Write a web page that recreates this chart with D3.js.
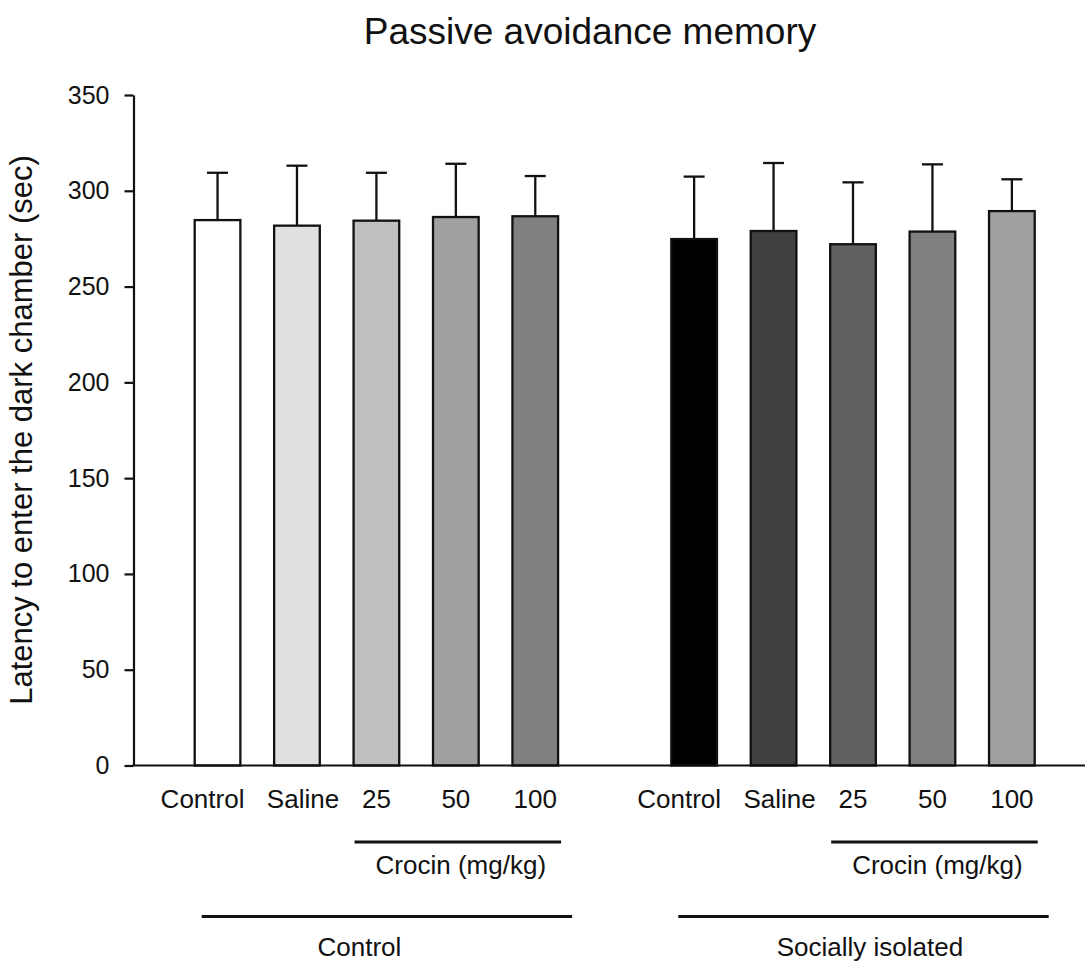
<!DOCTYPE html>
<html>
<head>
<meta charset="utf-8">
<script src="https://cdn.jsdelivr.net/npm/d3@7"></script>
<style>
  body { margin: 0; background: #fff; }
  svg text { font-family: "Liberation Sans", Arial, sans-serif; fill: #111; }
</style>
</head>
<body>
<div id="chart"></div>
<script>
// groups and treatments
var groups = ["Control", "Socially isolated"];
var treatments = ["Control", "Saline", "25", "50", "100"];
var doseTreatments = ["25", "50", "100"];

// mean latency (sec) and SEM
var controlMeans = [284.7, 281.8, 284.4, 286.3, 286.7];
var controlSem   = [24.7, 31.3, 25.0, 27.8, 21.0];
var isolatedMeans = [274.8, 279.0, 272.1, 278.7, 289.4];
var isolatedSem   = [32.6, 35.5, 32.3, 35.1, 16.6];

var yTicks = [0, 50, 100, 150, 200, 250, 300, 350];

var controlFills  = ["#ffffff", "#e0e0e0", "#c0c0c0", "#a0a0a0", "#808080"];
var isolatedFills = ["#000000", "#404040", "#606060", "#808080", "#a0a0a0"];

var width = 1085, height = 963;
var axisX = 133.5;

// build the bar rows
var bars = [];
var slots = [];
groups.forEach(function (g, gi) {
  var means = gi == 0 ? controlMeans : isolatedMeans;
  var sems = gi == 0 ? controlSem : isolatedSem;
  var fills = gi == 0 ? controlFills : isolatedFills;
  treatments.forEach(function (t, ti) {
    var key = g + "|" + t;
    slots.push(key);
    bars.push({ key: key, group: g, treatment: t, mean: means[ti], sem: sems[ti], fill: fills[ti] });
  });
  if (gi == 0) slots.push("gap"); // empty slot between the two groups
});

var svg = d3.select("#chart").append("svg")
  .attr("width", width)
  .attr("height", height);

var x = d3.scaleBand()
  .domain(slots)
  .range([193.7, 1035.7])
  .paddingInner(0.4)
  .paddingOuter(0);

var y = d3.scaleLinear()
  .domain([0, 350])
  .range([765.5, 95]);

// title
svg.append("text")
  .attr("x", 590)
  .attr("y", 44)
  .attr("text-anchor", "middle")
  .style("font-size", "37px")
  .text("Passive avoidance memory");

// y axis
var yAxis = svg.append("g")
  .attr("transform", "translate(" + axisX + ",0)")
  .call(d3.axisLeft(y).tickValues(yTicks).tickSize(9).tickPadding(15).tickSizeOuter(0));
yAxis.selectAll("path, line").attr("stroke", "#111").attr("stroke-width", 2.2);
yAxis.selectAll("text").style("font-size", "25px").style("font-family", "'Liberation Sans', Arial, sans-serif").attr("fill", "#111");

svg.append("text")
  .attr("transform", "translate(32,430) rotate(-90)")
  .attr("text-anchor", "middle")
  .style("font-size", "31px")
  .text("Latency to enter the dark chamber (sec)");

// bars
svg.selectAll(".bar")
  .data(bars)
  .enter().append("rect")
  .attr("class", "bar")
  .attr("x", function (d) { return x(d.key) + 1; })
  .attr("y", function (d) { return y(d.mean); })
  .attr("width", x.bandwidth() - 2)
  .attr("height", function (d) { return y(0) - y(d.mean); })
  .style("fill", function (d) { return d.fill; })
  .style("stroke", "#111")
  .style("stroke-width", 2.3);

// error bars (upper only)
var err = svg.selectAll(".err")
  .data(bars)
  .enter().append("g")
  .attr("class", "err")
  .attr("transform", function (d) { return "translate(" + (x(d.key) + x.bandwidth() / 2) + ",0)"; });
err.append("line")
  .attr("x1", 0).attr("x2", 0)
  .attr("y1", function (d) { return y(d.mean); })
  .attr("y2", function (d) { return y(d.mean + d.sem); })
  .attr("stroke", "#111").attr("stroke-width", 2.3);
err.append("line")
  .attr("x1", -10.5).attr("x2", 10.5)
  .attr("y1", function (d) { return y(d.mean + d.sem); })
  .attr("y2", function (d) { return y(d.mean + d.sem); })
  .attr("stroke", "#111").attr("stroke-width", 2.3);

// x baseline
svg.append("line")
  .attr("x1", axisX - 1).attr("x2", width)
  .attr("y1", y(0)).attr("y2", y(0))
  .attr("stroke", "#111").attr("stroke-width", 2.2);

// category labels through a bottom axis on the band scale
var labelNudge = { "Control": -15, "Saline": 6 };
var xAxis = svg.append("g")
  .attr("transform", "translate(0," + y(0) + ")")
  .call(d3.axisBottom(x)
    .tickValues(slots.filter(function (s) { return s != "gap"; }))
    .tickSize(0)
    .tickPadding(24)
    .tickFormat(function (s) { return s.split("|")[1]; }));
xAxis.select(".domain").remove();
xAxis.selectAll("text")
  .style("font-size", "26px")
  .style("font-family", "'Liberation Sans', Arial, sans-serif")
  .attr("fill", "#111")
  .attr("dx", function (s) { return labelNudge[s.split("|")[1]] || 0; });

// crocin brackets and group brackets
var groupNudge = [-17, 17];
groups.forEach(function (g, gi) {
  var x0 = x(g + "|" + doseTreatments[0]);
  var x1 = x(g + "|" + doseTreatments[doseTreatments.length - 1]) + x.bandwidth();
  svg.append("line")
    .attr("x1", x0 + 2).attr("x2", x1 + 2)
    .attr("y1", 842).attr("y2", 842)
    .attr("stroke", "#111").attr("stroke-width", 3);
  svg.append("text")
    .attr("x", (x0 + x1) / 2 + 5)
    .attr("y", 874)
    .attr("text-anchor", "middle")
    .style("font-size", "26px")
    .text("Crocin (mg/kg)");

  var g0 = x(g + "|" + treatments[0]);
  var g1 = x(g + "|" + treatments[treatments.length - 1]) + x.bandwidth();
  svg.append("line")
    .attr("x1", g0 + 8).attr("x2", g1 + 13)
    .attr("y1", 916.5).attr("y2", 916.5)
    .attr("stroke", "#111").attr("stroke-width", 3);
  svg.append("text")
    .attr("x", (g0 + g1) / 2 + groupNudge[gi])
    .attr("y", 956)
    .attr("text-anchor", "middle")
    .style("font-size", "26px")
    .text(g);
});
</script>
</body>
</html>
